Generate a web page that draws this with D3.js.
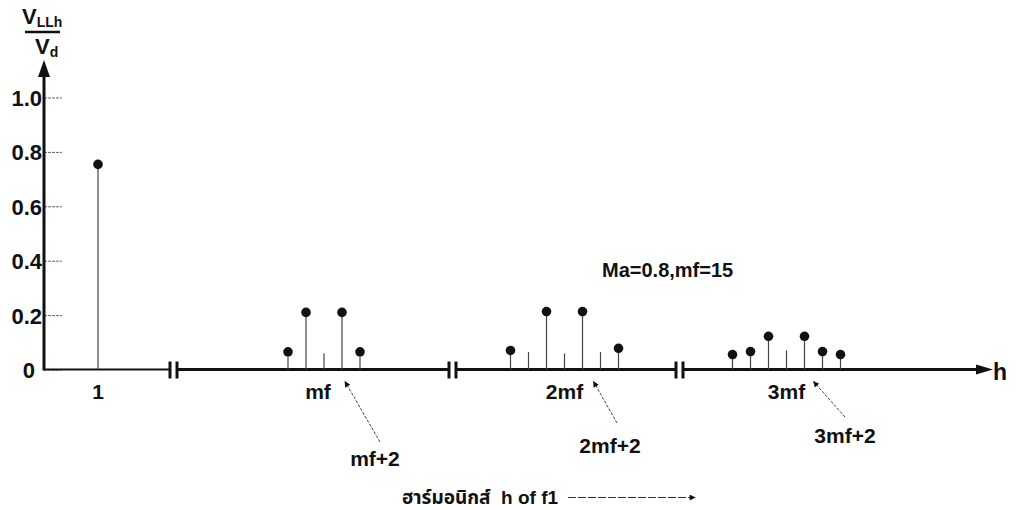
<!DOCTYPE html>
<html>
<head>
<meta charset="utf-8">
<script src="https://cdn.jsdelivr.net/npm/d3@7"></script>
<style>
  body { margin: 0; background: #fff; }
  text { font-family: "Liberation Sans", Arial, sans-serif; font-weight: bold; fill: #111; }
</style>
</head>
<body>
<script>
// y ticks
var tickValues = [0, 0.2, 0.4, 0.6, 0.8, 1.0];
var tickLabels = ["0", "0.2", "0.4", "0.6", "0.8", "1.0"];

// harmonic groups (mf = 15)
var groupNames = ["1", "mf", "2mf", "3mf"];
var groupCenters = [1, 15, 30, 45];

// fundamental
var fundH = [1];
var fundV = [0.754];

// sideband harmonics drawn with a dot
var sideH = [11, 13, 17, 19, 24, 28, 32, 36, 39, 41, 43, 47, 49, 51];
var sideV = [0.065, 0.21, 0.21, 0.065, 0.07, 0.213, 0.213, 0.078, 0.055, 0.066, 0.122, 0.122, 0.066, 0.055];

// small stems without a dot
var minorH = [15, 26, 30, 34, 45];
var minorV = [0.06, 0.064, 0.059, 0.064, 0.07];

// annotations
var noteText = ["mf+2", "2mf+2", "3mf+2"];
var noteH = [17, 32, 47];

var title = "Ma=0.8,mf=15";
var xTitle = "ฮาร์มอนิกส์  h of f1";

var width = 1020, height = 510;
var svg = d3.select("body").append("svg").attr("width", width).attr("height", height);

var defs = svg.append("defs");
defs.append("marker").attr("id", "head").attr("viewBox", "0 0 10 10")
    .attr("refX", 9).attr("refY", 5).attr("markerWidth", 7).attr("markerHeight", 6)
    .attr("markerUnits", "userSpaceOnUse").attr("orient", "auto")
  .append("path").attr("d", "M0,0L10,5L0,10Z").attr("fill", "#111");

var x0 = 44, y0 = 369.5;
var y = d3.scaleLinear().domain([0, 1]).range([y0, 97.5]);

// broken x axis: one linear scale per segment
var centerPx = [98, 324, 564.5, 786.5];
var segScales = groupCenters.map(function(c, i) {
  return d3.scaleLinear().domain([c, c + 1]).range([centerPx[i], centerPx[i] + 9]);
});
function x(h) {
  var best = 0;
  groupCenters.forEach(function(c, i) {
    if (Math.abs(h - c) < Math.abs(h - groupCenters[best])) best = i;
  });
  return segScales[best](h);
}

// y axis ticks
var yaxis = d3.axisLeft(y).tickValues(tickValues)
  .tickFormat(function(d, i) { return tickLabels[i]; })
  .tickSize(-18).tickPadding(2);
var gy = svg.append("g").attr("transform", "translate(" + x0 + ",0)").call(yaxis);
gy.select(".domain").remove();
gy.selectAll("line").attr("stroke", "#666").attr("stroke-width", 1).attr("stroke-dasharray", "3,1");
gy.selectAll("text").style("font-size", "22px").attr("fill", "#111")
  .attr("font-family", null).attr("dy", "0.36em");
gy.selectAll(".tick").filter(function(d) { return d === 0; }).select("text").attr("x", -9);

// y axis line with arrow
svg.append("line").attr("x1", x0).attr("x2", x0).attr("y1", y0 + 1).attr("y2", 70)
  .attr("stroke", "#111").attr("stroke-width", 3);
svg.append("path").attr("d", "M" + (x0 - 6) + ",77L" + x0 + ",60L" + (x0 + 6) + ",77Z").attr("fill", "#111");

// x axis segments with breaks
var breaks = [[170, 177], [449, 456], [676, 683]];
var axisEnd = 978;
var segEdges = [[x0, breaks[0][0]], [breaks[0][1], breaks[1][0]], [breaks[1][1], breaks[2][0]], [breaks[2][1], axisEnd]];
segEdges.forEach(function(e, i) {
  svg.append("line").attr("x1", e[0]).attr("x2", e[1]).attr("y1", y0).attr("y2", y0)
    .attr("stroke", "#111").attr("stroke-width", i == 0 ? 2.2 : 3);
});
breaks.forEach(function(b) {
  b.forEach(function(bx) {
    svg.append("line").attr("x1", bx).attr("x2", bx).attr("y1", y0 - 8).attr("y2", y0 + 9)
      .attr("stroke", "#111").attr("stroke-width", 3);
  });
});
svg.append("path").attr("d", "M" + (axisEnd - 2) + "," + (y0 - 5) + "L993," + y0 + "L" + (axisEnd - 2) + "," + (y0 + 5) + "Z").attr("fill", "#111");
svg.append("text").attr("x", 993).attr("y", y0 + 10).style("font-size", "23px").text("h");

// group labels
svg.selectAll(".glabel").data(groupNames).enter().append("text")
  .attr("class", "glabel")
  .attr("x", function(d, i) { return x(groupCenters[i]) - (i == 1 ? 6 : 0); })
  .attr("y", y0 + 29)
  .attr("text-anchor", "middle").style("font-size", "21px")
  .text(function(d) { return d; });

// stems
function stems(hs, vs, cls) {
  svg.selectAll("." + cls).data(hs).enter().append("line")
    .attr("class", cls)
    .attr("x1", function(d) { return x(d); }).attr("x2", function(d) { return x(d); })
    .attr("y1", y0).attr("y2", function(d, i) { return y(vs[i]); })
    .attr("stroke", "#444").attr("stroke-width", 1.2);
}
stems(fundH, fundV, "fstem");
stems(sideH, sideV, "sstem");
stems(minorH, minorV, "mstem");

var dotsH = fundH.concat(sideH), dotsV = fundV.concat(sideV);
svg.selectAll(".dot").data(dotsH).enter().append("circle")
  .attr("class", "dot")
  .attr("cx", function(d) { return x(d); })
  .attr("cy", function(d, i) { return y(dotsV[i]); })
  .attr("r", 4.8).attr("fill", "#111");

// parameter text
svg.append("text").attr("x", 602).attr("y", 277).style("font-size", "20px").text(title);

// annotation arrows
var tipDx = [3, 11, 9];
var labPos = [[375, 466], [610, 453], [845, 443]];
var lineStart = [[380, 442], [617, 423], [845, 417]];
noteText.forEach(function(t, i) {
  svg.append("line")
    .attr("x1", lineStart[i][0]).attr("y1", lineStart[i][1])
    .attr("x2", x(noteH[i]) + tipDx[i]).attr("y2", y0 + 12)
    .attr("stroke", "#444").attr("stroke-width", 1).attr("stroke-dasharray", "3,1.5")
    .attr("marker-end", "url(#head)");
  svg.append("text").attr("x", labPos[i][0]).attr("y", labPos[i][1])
    .attr("text-anchor", "middle").style("font-size", "21px").text(t);
});

// x axis title
svg.append("text").attr("x", 402).attr("y", 504).style("font-size", "19px")
  .style("white-space", "pre")
  .style("font-family", "'Liberation Sans', 'Noto Sans Thai', 'Noto Sans', sans-serif")
  .text(xTitle);
svg.append("line").attr("x1", 568).attr("x2", 695).attr("y1", 497.5).attr("y2", 497.5)
  .attr("stroke", "#333").attr("stroke-width", 1).attr("stroke-dasharray", "8,2")
  .attr("marker-end", "url(#head)");

// y axis title: V_LLh / V_d
var yt = svg.append("g");
yt.append("text").attr("x", 22).attr("y", 24).style("font-size", "22px")
  .html('V<tspan style="font-size:14px" dy="3">LLh</tspan>');
yt.append("line").attr("x1", 25).attr("x2", 60).attr("y1", 32).attr("y2", 32)
  .attr("stroke", "#111").attr("stroke-width", 2.5);
yt.append("text").attr("x", 35).attr("y", 54).style("font-size", "22px")
  .html('V<tspan style="font-size:14px" dy="3">d</tspan>');
</script>
</body>
</html>
